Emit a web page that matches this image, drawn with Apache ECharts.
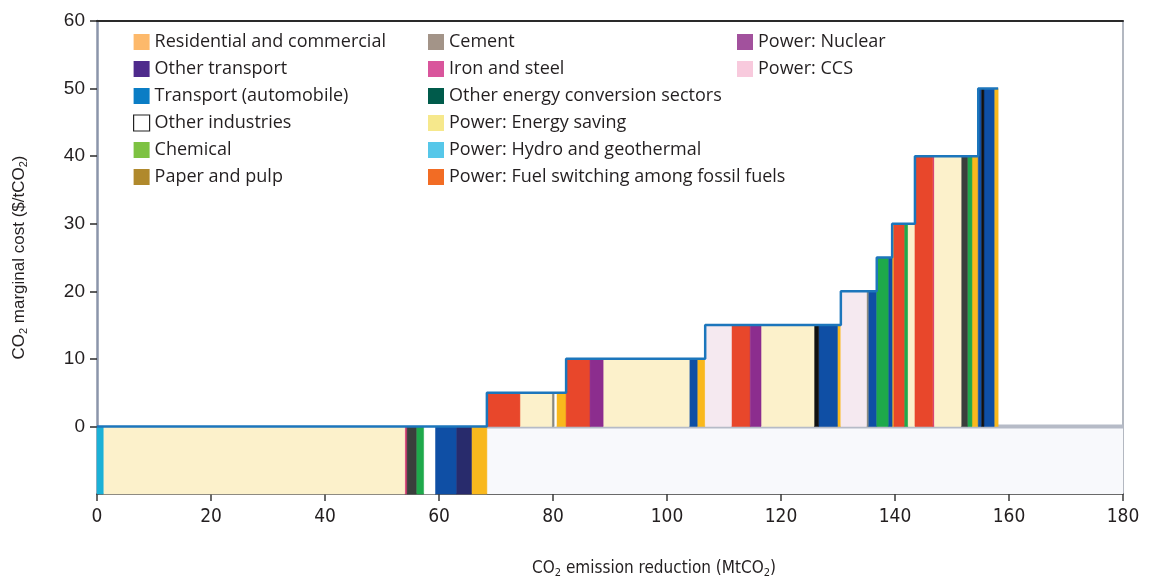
<!DOCTYPE html>
<html>
<head>
<meta charset="utf-8">
<script src="https://cdn.jsdelivr.net/npm/echarts@6/dist/echarts.min.js"></script>
<style>html,body{margin:0;padding:0;background:#fff}#c{width:1150px;height:584px}</style>
</head>
<body>
<div id="c"></div>
<script>
// ---- Data ----
const categories = [
  'Residential and commercial','Other transport','Transport (automobile)','Other industries','Chemical','Paper and pulp',
  'Cement','Iron and steel','Other energy conversion sectors','Power: Energy saving','Power: Hydro and geothermal','Power: Fuel switching among fossil fuels',
  'Power: Nuclear','Power: CCS'
];
// segments in order along the curve: category, width (MtCO2), marginal cost ($/tCO2; negative drawn to -10)
const segCategory = [
  'Power: Hydro and geothermal','Power: Energy saving','Iron and steel','Other energy conversion sectors','Chemical','Other industries','Transport (automobile)','Other transport','Residential and commercial',
  'Power: Fuel switching among fossil fuels','Power: Energy saving','Cement','Other industries','Residential and commercial',
  'Power: Fuel switching among fossil fuels','Power: Nuclear','Power: Energy saving','Transport (automobile)','Residential and commercial',
  'Power: CCS','Power: Fuel switching among fossil fuels','Power: Nuclear','Power: Energy saving','Paper and pulp','Transport (automobile)','Residential and commercial',
  'Power: CCS','Cement','Transport (automobile)',
  'Chemical','Transport (automobile)',
  'Residential and commercial','Power: Fuel switching among fossil fuels','Chemical','Power: Energy saving',
  'Power: Fuel switching among fossil fuels','Iron and steel','Power: Energy saving','Other energy conversion sectors','Chemical','Residential and commercial',
  'Transport (automobile)','Paper and pulp','Transport (automobile)','Residential and commercial'
];
const segWidth = [
  1.1, 52.9, 0.4, 1.6, 1.3, 2.0, 3.7, 2.7, 2.7,
  5.8, 5.6, 0.4, 0.4, 1.7,
  4.2, 2.3, 15.1, 1.4, 1.4,
  4.6, 3.3, 1.9, 9.3, 0.8, 3.3, 0.6,
  4.5, 0.3, 1.5,
  2.0, 0.7,
  0.3, 1.8, 0.7, 1.2,
  3.1, 0.3, 4.7, 1.1, 0.8, 1.1,
  0.6, 0.4, 1.8, 0.7
];
const segCost = [
  -10, -10, -10, -10, -10, -10, -10, -10, -10,
  5, 5, 5, 5, 5,
  10, 10, 10, 10, 10,
  15, 15, 15, 15, 15, 15, 15,
  20, 20, 20,
  25, 25,
  30, 30, 30, 30,
  40, 40, 40, 40, 40, 40,
  50, 50, 50, 50
];
const yTicks = [0, 10, 20, 30, 40, 50, 60];
const xTicks = [0, 20, 40, 60, 80, 100, 120, 140, 160, 180];

// ---- Styles ----
const legendColor = {
  'Residential and commercial':'#fdb96b','Other transport':'#4e2a8c','Transport (automobile)':'#0a7dc5','Other industries':'#ffffff',
  'Chemical':'#7dc242','Paper and pulp':'#b0892c','Cement':'#a39488','Iron and steel':'#d9559c',
  'Other energy conversion sectors':'#005b4b','Power: Energy saving':'#f6e88c','Power: Hydro and geothermal':'#56c7e9',
  'Power: Fuel switching among fossil fuels':'#f26c24','Power: Nuclear':'#a2519d','Power: CCS':'#f8cadd'
};
const barColor = {
  'Residential and commercial':'#f9b81d','Other transport':'#282b6c','Transport (automobile)':'#0f4fa5','Other industries':'#ffffff',
  'Chemical':'#1ea94b','Paper and pulp':'#111111','Cement':'#8a8a80','Iron and steel':'#d43a73',
  'Other energy conversion sectors':'#3a3f3c','Power: Energy saving':'#fcf1cb','Power: Hydro and geothermal':'#1bb1d7',
  'Power: Fuel switching among fossil fuels':'#e8472b','Power: Nuclear':'#8c2d8e','Power: CCS':'#f5e9f0'
};

// ---- Build ----
const starts = [];
let acc = 0;
segWidth.forEach(w => { starts.push(acc); acc += w; });
const negEnd = segCost.reduce((s, c, i) => c < 0 ? starts[i] + segWidth[i] : s, 0);
const yMin = Math.min(...segCost);
const xMax = xTicks[xTicks.length - 1];

const outline = [[0, 0]];
segWidth.forEach((w, i) => {
  const top = Math.max(segCost[i], 0);
  outline.push([starts[i], top], [starts[i] + w, top]);
});

function renderItem(params, api) {
  const x0 = api.value(0), x1 = api.value(1), c = api.value(2);
  const top = c < 0 ? 0 : c, bot = c < 0 ? c : 0;
  const p0 = api.coord([x0, top]);
  const p1 = api.coord([x1, bot]);
  const col = barColor[params.seriesName];
  return {
    type: 'rect',
    shape: { x: p0[0], y: p0[1], width: p1[0] - p0[0], height: p1[1] - p0[1] },
    style: { fill: col, stroke: col, lineWidth: 0.5 }
  };
}

const barSeries = categories.map(name => ({
  name, type: 'custom', renderItem,
  itemStyle: { color: legendColor[name] },
  encode: { x: [0, 1], y: 2 },
  data: segCategory.map((c, i) => c === name ? [starts[i], starts[i] + segWidth[i], segCost[i]] : null).filter(Boolean),
  z: 3
}));

const legFont = { fontFamily: '"Open Sans", "Liberation Sans", sans-serif', fontSize: 18, lineHeight: 16, color: '#231f20' };
function legendItems(names) {
  return names.map(n => ({
    name: n,
    itemStyle: n === 'Other industries'
      ? { color: '#ffffff', borderColor: '#222', borderWidth: 1.2 }
      : { color: legendColor[n], borderWidth: 0 }
  }));
}
const legendBase = {
  orient: 'vertical', top: 33, itemWidth: 16, itemHeight: 16, itemGap: 9,
  icon: 'rect', textStyle: legFont, selectedMode: false, padding: 0
};

const narrow = '"Liberation Sans Narrow", "DejaVu Sans Condensed", sans-serif';
const option = {
  animation: false,
  backgroundColor: '#ffffff',
  grid: { left: 97, right: 27, top: 21, bottom: 88, containLabel: false },
  legend: [
    Object.assign({}, legendBase, { left: 133, data: legendItems(categories.slice(0, 6)) }),
    Object.assign({}, legendBase, { left: 428, data: legendItems(categories.slice(6, 12)) }),
    Object.assign({}, legendBase, { left: 737, data: legendItems(categories.slice(12)) })
  ],
  xAxis: [{
    type: 'value', min: xTicks[0], max: xMax, interval: 20,
    splitLine: { show: false },
    axisLine: { show: true, onZero: false, lineStyle: { color: '#3a3a3a', width: 1.5 } },
    axisTick: { show: true, length: 7, lineStyle: { color: '#3a3a3a', width: 1.5 } },
    axisLabel: { margin: 14, fontFamily: narrow, fontSize: 19, color: '#231f20' },
    name: 'CO{s|2} emission reduction (MtCO{s|2})',
    nameLocation: 'middle', nameGap: 65,
    nameTextStyle: {
      fontFamily: narrow, fontSize: 17, color: '#231f20',
      padding: [0, 0, 0, 88], lineHeight: 20,
      rich: { s: { fontFamily: narrow, fontSize: 11, lineHeight: 11, verticalAlign: 'bottom', color: '#231f20' } }
    }
  }, {
    type: 'value', position: 'top', min: xTicks[0], max: xMax,
    axisLine: { show: true, onZero: false, lineStyle: { color: '#2a2a2a', width: 2 } },
    axisTick: { show: false }, axisLabel: { show: false }, splitLine: { show: false }
  }],
  yAxis: [{
    type: 'value', min: yMin, max: yTicks[yTicks.length - 1], interval: 10,
    splitLine: { show: false },
    axisLine: { show: true, onZero: false, lineStyle: { color: '#8b95aa', width: 2.5 } },
    axisTick: { show: true, length: 7, customValues: yTicks, lineStyle: { color: '#2a2a2a', width: 1.5 } },
    axisLabel: { customValues: yTicks, margin: 12, fontFamily: '"Liberation Sans", Arial, sans-serif', fontSize: 19, color: '#231f20' },
    name: 'CO{s|2} marginal cost ($/tCO{s|2})',
    nameLocation: 'middle', nameGap: 68, nameRotate: 90,
    nameTextStyle: {
      fontFamily: '"Liberation Sans", Arial, sans-serif', fontSize: 17, color: '#231f20', lineHeight: 20,
      rich: { s: { fontFamily: '"Liberation Sans", Arial, sans-serif', fontSize: 11, lineHeight: 11, verticalAlign: 'bottom', color: '#231f20' } }
    }
  }, {
    type: 'value', position: 'right', min: yMin, max: yTicks[yTicks.length - 1],
    axisLine: { show: true, onZero: false, lineStyle: { color: '#9aa0ac', width: 1.5 } },
    axisTick: { show: false }, axisLabel: { show: false }, splitLine: { show: false }
  }],
  series: [
    {
      name: 'zero band', type: 'line', symbol: 'none', silent: true,
      data: [[negEnd, 0], [xMax, 0]],
      lineStyle: { color: '#b6bbc7', width: 4 },
      markArea: { silent: true, itemStyle: { color: '#f8f9fc' }, data: [[{ coord: [negEnd, yMin] }, { coord: [xMax, 0] }]] },
      z: 1
    },
    ...barSeries,
    {
      name: 'outline', type: 'line', symbol: 'none', silent: true,
      data: outline,
      lineStyle: { color: '#1c76bc', width: 2.5 },
      z: 5
    }
  ]
};

const chart = echarts.init(document.getElementById('c'), null, { renderer: 'canvas' });
chart.setOption(option);
</script>
</body>
</html>
